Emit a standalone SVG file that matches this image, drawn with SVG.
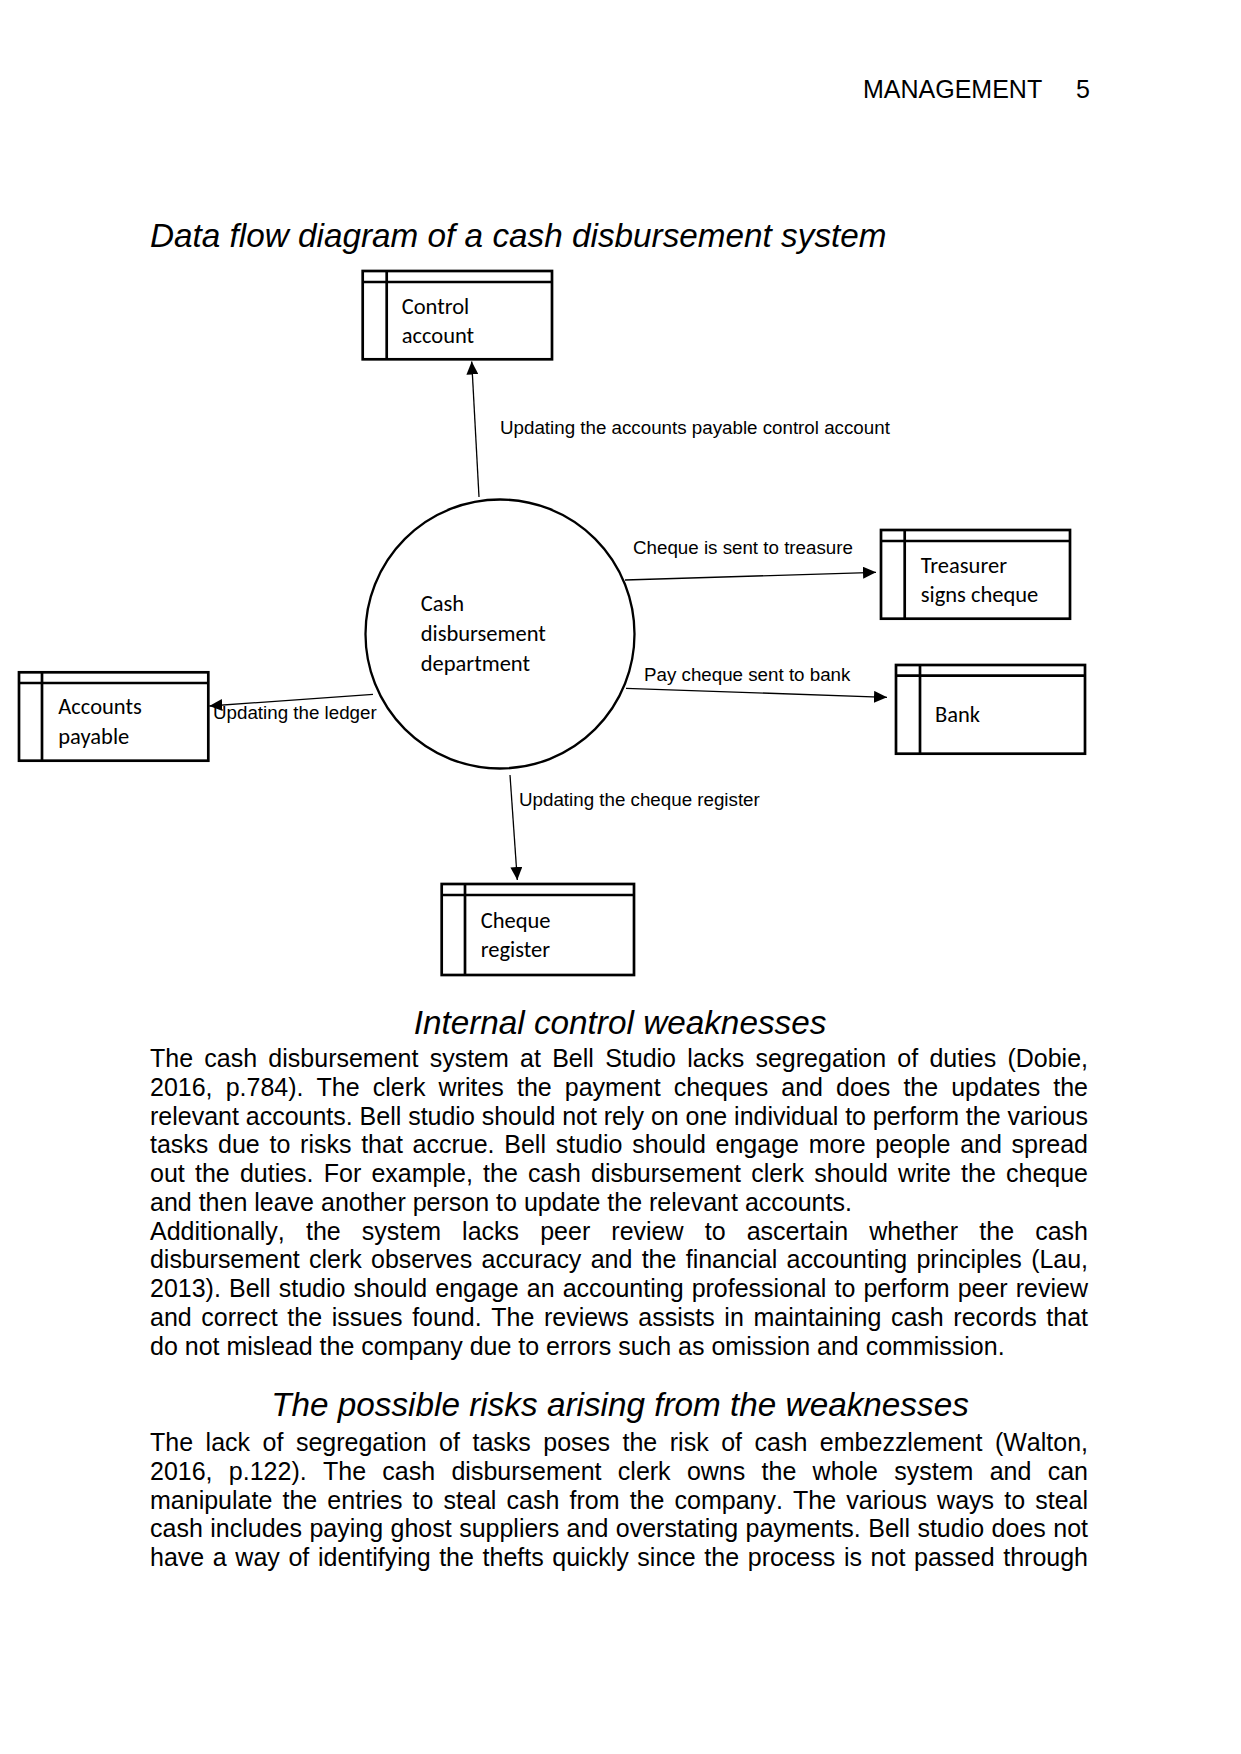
<svg xmlns="http://www.w3.org/2000/svg" width="1241" height="1754" viewBox="0 0 1241 1754">
<style>
.hdr{font-family:"Liberation Sans",Arial,sans-serif;font-size:25px;fill:#000}
.h{font-family:"Liberation Sans",Arial,sans-serif;font-size:33.3px;font-style:italic;fill:#000}
.b{font-family:"Liberation Sans",Arial,sans-serif;font-size:25px;fill:#000;font-kerning:none}
.lbl{font-family:"Liberation Sans",Arial,sans-serif;font-size:18.75px;fill:#000}
.nt{font-family:Carlito,Lato,"Liberation Sans",sans-serif;font-size:22.5px;fill:#000}
.box{fill:#fff;stroke:#000;stroke-width:2.7}
.div{stroke:#000;stroke-width:2.7}
.proc{fill:#fff;stroke:#000;stroke-width:2.3}
.conn{stroke:#000;stroke-width:1.3;fill:none;marker-end:url(#arr)}
</style>
<defs>
<marker id="arr" markerUnits="userSpaceOnUse" markerWidth="14" markerHeight="12" refX="13" refY="6" orient="auto">
<path d="M0,0 L13,6 L0,12 z" fill="#000"/>
</marker>
</defs>
<rect width="1241" height="1754" fill="#fff"/>
<text class="hdr" x="863" y="98">MANAGEMENT</text>
<text class="hdr" x="1076" y="98">5</text>
<text class="h" x="150" y="247">Data flow diagram of a cash disbursement system</text>

<g id="control-account">
<rect class="box" x="362.7" y="271" width="189.3" height="88.3"/>
<line class="div" x1="386.7" y1="271" x2="386.7" y2="359.3"/>
<line class="div" x1="362.7" y1="282" x2="552" y2="282"/>
<text class="nt" x="401.7" y="314.3">Control</text>
<text class="nt" x="401.7" y="343.3">account</text>
</g>

<g id="treasurer">
<rect class="box" x="881" y="530" width="189" height="88.7"/>
<line class="div" x1="904.7" y1="530" x2="904.7" y2="618.7"/>
<line class="div" x1="881" y1="541" x2="1070" y2="541"/>
<text class="nt" x="920.7" y="573.3">Treasurer</text>
<text class="nt" x="920.7" y="601.7">signs cheque</text>
</g>

<g id="bank">
<rect class="box" x="896" y="665" width="189" height="88.7"/>
<line class="div" x1="920" y1="665" x2="920" y2="753.7"/>
<line class="div" x1="896" y1="675.7" x2="1085" y2="675.7"/>
<text class="nt" x="935" y="722.3">Bank</text>
</g>

<g id="accounts-payable">
<rect class="box" x="19" y="672.3" width="189.3" height="88.4"/>
<line class="div" x1="42" y1="672.3" x2="42" y2="760.7"/>
<line class="div" x1="19" y1="683" x2="208.3" y2="683"/>
<text class="nt" x="58.3" y="714">Accounts</text>
<text class="nt" x="58.3" y="743.5">payable</text>
</g>

<g id="cheque-register">
<rect class="box" x="441.7" y="884" width="192.3" height="91"/>
<line class="div" x1="465" y1="884" x2="465" y2="975"/>
<line class="div" x1="441.7" y1="895" x2="634" y2="895"/>
<text class="nt" x="480.7" y="927.7">Cheque</text>
<text class="nt" x="480.7" y="956.7">register</text>
</g>

<g id="cash-disbursement-department">
<circle class="proc" cx="500" cy="634" r="134.5"/>
<text class="nt" x="420.7" y="611">Cash</text>
<text class="nt" x="420.7" y="641">disbursement</text>
<text class="nt" x="420.7" y="671">department</text>
</g>

<g id="connectors">
<line class="conn" x1="479" y1="497" x2="471.7" y2="361.5"/>
<text class="lbl" x="500" y="434">Updating the accounts payable control account</text>
<line class="conn" x1="625" y1="580" x2="876" y2="572.3"/>
<text class="lbl" x="633" y="554">Cheque is sent to treasure</text>
<line class="conn" x1="626" y1="688.3" x2="887" y2="697.3"/>
<text class="lbl" x="644" y="681">Pay cheque sent to bank</text>
<line class="conn" x1="373" y1="694.3" x2="209.3" y2="706"/>
<text class="lbl" x="213" y="719.3">Updating the ledger</text>
<line class="conn" x1="510" y1="775" x2="517.3" y2="880"/>
<text class="lbl" x="519" y="806">Updating the cheque register</text>
</g>

<text class="h" x="620" y="1034" text-anchor="middle">Internal control weaknesses</text>
<g class="b">
<text x="150" y="1067" word-spacing="4.3" textLength="938" lengthAdjust="spacing">The cash disbursement system at Bell Studio lacks segregation of duties (Dobie,</text>
<text x="150" y="1095.75" word-spacing="6.14" textLength="938" lengthAdjust="spacing">2016, p.784). The clerk writes the payment cheques and does the updates the</text>
<text x="150" y="1124.5" word-spacing="-0.1" textLength="938" lengthAdjust="spacing">relevant accounts. Bell studio should not rely on one individual to perform the various</text>
<text x="150" y="1153.25" word-spacing="2.78" textLength="938" lengthAdjust="spacing">tasks due to risks that accrue. Bell studio should engage more people and spread</text>
<text x="150" y="1182" word-spacing="3.25" textLength="938" lengthAdjust="spacing">out the duties. For example, the cash disbursement clerk should write the cheque</text>
<text x="150" y="1210.75">and then leave another person to update the relevant accounts.</text>
<text x="150" y="1239.5" word-spacing="14.19" textLength="938" lengthAdjust="spacing">Additionally, the system lacks peer review to ascertain whether the cash</text>
<text x="150" y="1268.25" word-spacing="2.45" textLength="938" lengthAdjust="spacing">disbursement clerk observes accuracy and the financial accounting principles (Lau,</text>
<text x="150" y="1297" word-spacing="1.14" textLength="938" lengthAdjust="spacing">2013). Bell studio should engage an accounting professional to perform peer review</text>
<text x="150" y="1325.75" word-spacing="2.67" textLength="938" lengthAdjust="spacing">and correct the issues found. The reviews assists in maintaining cash records that</text>
<text x="150" y="1354.5">do not mislead the company due to errors such as omission and commission.</text>
</g>

<text class="h" x="620" y="1416" text-anchor="middle">The possible risks arising from the weaknesses</text>
<g class="b">
<text x="150" y="1451" word-spacing="5.57" textLength="938" lengthAdjust="spacing">The lack of segregation of tasks poses the risk of cash embezzlement (Walton,</text>
<text x="150" y="1479.75" word-spacing="9.35" textLength="938" lengthAdjust="spacing">2016, p.122). The cash disbursement clerk owns the whole system and can</text>
<text x="150" y="1508.5" word-spacing="3.21" textLength="938" lengthAdjust="spacing">manipulate the entries to steal cash from the company. The various ways to steal</text>
<text x="150" y="1537.25" word-spacing="0.51" textLength="938" lengthAdjust="spacing">cash includes paying ghost suppliers and overstating payments. Bell studio does not</text>
<text x="150" y="1566" word-spacing="1.69" textLength="938" lengthAdjust="spacing">have a way of identifying the thefts quickly since the process is not passed through</text>
</g>
</svg>
